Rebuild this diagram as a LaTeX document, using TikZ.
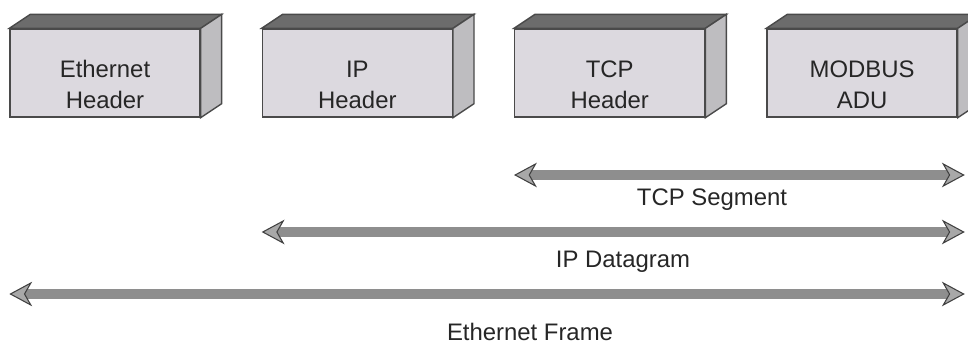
\documentclass[tikz,border=0pt]{standalone}
\usepackage{fontspec}
\setmainfont{Liberation Sans}
\usetikzlibrary{positioning,arrows.meta}
\definecolor{facefront}{HTML}{DCD9DF}
\definecolor{facetop}{HTML}{6C6C6C}
\definecolor{faceside}{HTML}{BEBDC0}
\definecolor{edge}{HTML}{4A4A4A}
\definecolor{bar}{HTML}{8E8E8E}
\definecolor{tipfill}{HTML}{A8A8A8}

\begin{document}
\begin{tikzpicture}[x=0.02cm,y=-0.02cm]
    \tikzset{
        hdr/.style={draw=edge, fill=facefront, line width=0.8pt, inner sep=0pt,
            minimum width=3.8cm, minimum height=1.76cm, align=center,
            execute at begin node={\rule{0pt}{40pt}},
            text=black!85, font=\fontsize{13.6}{17.6}\selectfont},
        span/.style={draw=bar, line width=6pt,
            {Stealth[length=13pt,width=14pt,inset=4pt,line width=0.6pt,fill=tipfill,color=black!75]}-{Stealth[length=13pt,width=14pt,inset=4pt,line width=0.6pt,fill=tipfill,color=black!75]}},
        spantext/.style={text=black!85, font=\fontsize{13.6}{16}\selectfont},}
    % top and right faces of a header block
    \def\solid#1{%
        \filldraw[fill=facetop, draw=edge, line width=0.8pt] (#1.north west) -- ++(21,-14)
            -- ([shift={(21,-14)}]#1.north east) -- (#1.north east) -- cycle;
        \filldraw[fill=faceside, draw=edge, line width=0.8pt] (#1.north east) -- ++(21,-14)
            -- ([shift={(21,-14)}]#1.south east) -- (#1.south east) -- cycle;}
    \useasboundingbox (0,0) rectangle (968,345);

    \node[hdr] (eth) at (105,73) {Ethernet\\Header};
    \node[hdr, right=1.22cm of eth] (ip) {IP\\Header};
    \node[hdr, right=1.22cm of ip] (tcp) {TCP\\Header};
    \node[hdr, right=1.22cm of tcp] (mod) {MODBUS\\ADU};
    \solid{eth} \solid{ip} \solid{tcp} \solid{mod}

    % spans
    \coordinate (seg) at (0,175);
    \coordinate (dgm) at (0,232);
    \coordinate (frm) at (0,294);
    \draw[span] (tcp.west |- seg) -- ([xshift=4]mod.east |- seg);
    \draw[span] (ip.west |- dgm) -- ([xshift=4]mod.east |- dgm);
    \draw[span] (eth.west |- frm) -- ([xshift=4]mod.east |- frm);
    \node[spantext] (seglbl) at (712,200) {TCP Segment};
    \node[spantext] (dgmlbl) at (623,262) {IP Datagram};
    \node[spantext] (frmlbl) at (530,332) {Ethernet Frame};
\end{tikzpicture}
\end{document}
